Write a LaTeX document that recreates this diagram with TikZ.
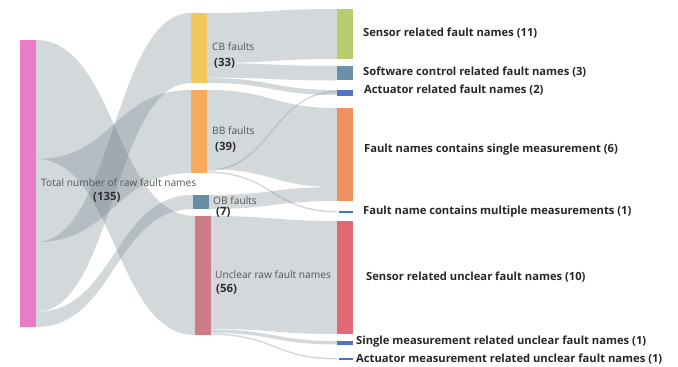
\documentclass[tikz,border=0pt]{standalone}
\usepackage{fontspec}
\setmainfont{Open Sans}
\usetikzlibrary{math}

\definecolor{flowgray}{RGB}{112,126,138}
\definecolor{totalpink}{RGB}{232,124,200}
\definecolor{cbyellow}{RGB}{240,200,92}
\definecolor{bborange}{RGB}{245,170,92}
\definecolor{obblue}{RGB}{102,140,166}
\definecolor{uncrose}{RGB}{205,125,134}
\definecolor{sensgreen}{RGB}{186,205,110}
\definecolor{softblue}{RGB}{106,145,170}
\definecolor{actblue}{RGB}{82,115,192}
\definecolor{singorange}{RGB}{240,145,96}
\definecolor{multblue}{RGB}{70,110,215}
\definecolor{sensred}{RGB}{226,106,116}
\definecolor{midtext}{RGB}{85,85,85}
\definecolor{numtext}{RGB}{45,45,45}

\newcommand{\flow}[6]{\fill[flow] (#1,#2) .. controls ({(#1+#4)/2},#2) and ({(#1+#4)/2},#5) .. (#4,#5) -- (#4,#6) .. controls ({(#1+#4)/2},#6) and ({(#1+#4)/2},#3) .. (#1,#3) -- cycle;}

\begin{document}
\begin{tikzpicture}[x=1pt,y=-1pt,
    flow/.style={fill=flowgray, fill opacity=0.3},
    bar/.style={rectangle, inner sep=0pt, minimum width=16pt},
    midlbl/.style={anchor=west, inner sep=0pt, text=midtext, font=\fontsize{10.2}{12}\selectfont},
    numlbl/.style={anchor=west, inner sep=0pt, text=numtext, font=\fontsize{11.4}{13}\selectfont\bfseries},
    rlbl/.style={anchor=west, inner sep=0pt, text=black!85, font=\fontsize{11.2}{13}\selectfont\bfseries}]
  \useasboundingbox[fill=white] (0,0) rectangle (678,367);
  \tikzmath{\xa = 36; \xb = 191; \xc = 193; \xd = 195; \xe = 207; \xf = 209; \xg = 211; \xh = 337;}
  \flow{\xa}{40}{159}{\xd}{216}{335}
  \flow{\xa}{159}{242}{\xb}{90}{173}
  \flow{\xa}{242}{312}{\xb}{13}{83}
  \flow{\xa}{312}{327}{\xc}{195}{209}
  \flow{\xe}{13}{63}{\xh}{9}{59}
  \flow{\xe}{63}{77.5}{\xh}{66}{80.5}
  \flow{\xe}{78}{83}{\xh}{90}{95}
  \flow{\xe}{90}{169}{\xh}{108}{187}
  \flow{\xe}{169.5}{171}{\xh}{91}{92.5}
  \flow{\xe}{171.5}{173}{\xh}{211}{212.5}
  \flow{\xf}{195}{209}{\xh}{187}{201}
  \flow{\xg}{216}{329}{\xh}{221}{334}
  \flow{\xg}{329.5}{333}{\xh}{341}{344.5}
  \flow{\xg}{333.5}{335}{\xh}{358}{359.5}
  \node[bar, fill=totalpink, minimum height=287pt] (total) at (28,183.5) {};
  \node[bar, fill=cbyellow, minimum height=70pt] (cb) at (199,48) {};
  \node[bar, fill=bborange, minimum height=83pt] (bb) at (199,131.5) {};
  \node[bar, fill=obblue, minimum height=14pt] (ob) at (201,202) {};
  \node[bar, fill=uncrose, minimum height=119pt] (unclear) at (203,275.5) {};
  \node[bar, fill=sensgreen, minimum height=50pt] (sensor) at (345,34) {};
  \node[bar, fill=softblue, minimum height=14pt] (software) at (345,73) {};
  \node[bar, fill=actblue, minimum height=6pt] (actuator) at (345,93) {};
  \node[bar, fill=singorange, minimum height=93pt] (single) at (345,154.5) {};
  \node[bar, fill=multblue, minimum height=2pt, minimum width=14pt] (multiple) at (345.5,212) {};
  \node[bar, fill=sensred, minimum height=113pt] (sensunc) at (345,277.5) {};
  \node[bar, fill=actblue, minimum height=4pt] (singunc) at (345,343) {};
  \node[bar, fill=multblue, minimum height=2pt, minimum width=14pt] (actunc) at (345.5,359) {};
  \node[midlbl] (totallbl) at (41,183) {Total number of raw fault names};
  \node[numlbl] (totalnum) at (93,197.5) {(135)};
  \node[midlbl] (cblbl) at (212,47) {CB faults};
  \node[numlbl] (cbnum) at (214,63) {(33)};
  \node[midlbl] (bblbl) at (212,131) {BB faults};
  \node[numlbl] (bbnum) at (215,147) {(39)};
  \node[midlbl] (oblbl) at (213,201) {OB faults};
  \node[numlbl] (obnum) at (216,212.5) {(7)};
  \node[midlbl] (unclbl) at (215,275) {Unclear raw fault names};
  \node[numlbl] (uncnum) at (216,289) {(56)};
  \node[rlbl] (sensorlbl) at (363,33) {Sensor related fault names (11)};
  \node[rlbl] (softwarelbl) at (363,72) {Software control related fault names (3)};
  \node[rlbl] (actuatorlbl) at (364,90) {Actuator related fault names (2)};
  \node[rlbl] (singlelbl) at (364,150) {Fault names contains single measurement (6)};
  \node[rlbl] (multiplelbl) at (363,212) {Fault name contains multiple measurements (1)};
  \node[rlbl] (sensunclbl) at (366,277) {Sensor related unclear fault names (10)};
  \node[rlbl] (singunclbl) at (356,342) {Single measurement related unclear fault names (1)};
  \node[rlbl] (actunclbl) at (356,359) {Actuator measurement related unclear fault names (1)};
\end{tikzpicture}
\end{document}
